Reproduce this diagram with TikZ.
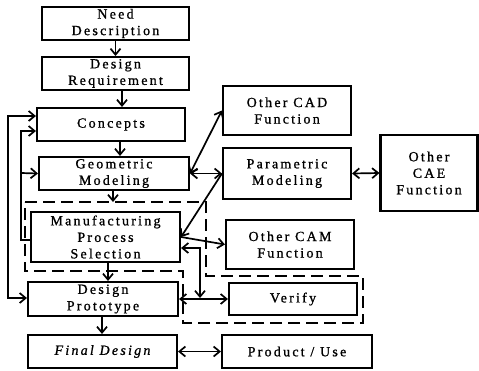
\documentclass[tikz,border=0pt]{standalone}
\usepackage{fontspec}
\setmainfont{Liberation Serif}[LetterSpace=16,FakeBold=1]
\usetikzlibrary{arrows.meta}
\begin{document}
\begin{tikzpicture}[x=1pt,y=-1pt,
  box/.style={draw, line width=2.1pt, inner sep=0pt},
  lbl/.style={align=center, font=\fontsize{14}{16.5}\selectfont, inner sep=0pt},
  arr/.style={line width=1.7pt, -{Straight Barb[length=6pt,width=10pt]}},
  dbl/.style={line width=1.7pt, {Straight Barb[length=6pt,width=10pt]}-{Straight Barb[length=6pt,width=10pt]}},
  zone/.style={line width=2.8pt, dash pattern=on 12pt off 6pt}]
\useasboundingbox (0,0) rectangle (479,370);

% main design chain
\node[box, minimum width=147pt, minimum height=33pt] (need) at (115.5,23.5) {};
\node[lbl] (need-t) at (need.center) {Need\\Description};
\node[box, minimum width=147pt, minimum height=33pt] (req) at (115.5,73.5) {};
\node[lbl] (req-t) at (req.center) {Design\\Requirement};
\node[box, minimum width=148pt, minimum height=33pt] (concepts) at (111,124.5) {};
\node[lbl] (concepts-t) at (concepts.center) {Concepts};
\node[box, minimum width=150pt, minimum height=33pt] (geo) at (114,173.5) {};
\node[lbl] (geo-t) at (geo.center) {Geometric\\Modeling};
\node[box, minimum width=149pt, minimum height=50pt] (mps) at (105.5,237) {};
\node[lbl] (mps-t) at (mps.center) {Manufacturing\\Process\\Selection};
\node[box, minimum width=150pt, minimum height=34pt] (proto) at (103,299) {};
\node[lbl] (proto-t) at (proto.center) {Design\\Prototype};
\node[box, minimum width=149pt, minimum height=33pt] (final) at (102.5,351.5) {};
\node[lbl] (final-t) at (final.center) {\itshape Final Design};

% side functions
\node[box, minimum width=128pt, minimum height=49pt] (cad) at (287,110.5) {};
\node[lbl] (cad-t) at (cad.center) {Other CAD\\Function};
\node[box, minimum width=128pt, minimum height=51pt] (param) at (287,173.5) {};
\node[lbl] (param-t) at (param.center) {Parametric\\Modeling};
\node[box, minimum width=97pt, minimum height=76pt] (cae) at (429,173) {};
\node[lbl] (cae-t) at (cae.center) {Other\\CAE\\Function};
\node[box, minimum width=128pt, minimum height=49pt] (cam) at (290,244.5) {};
\node[lbl] (cam-t) at (cam.center) {Other CAM\\Function};
\node[box, minimum width=128pt, minimum height=32pt] (verify) at (293,299) {};
\node[lbl] (verify-t) at (verify.center) {Verify};
\node[box, minimum width=150pt, minimum height=33pt] (product) at (297,351.5) {};
\node[lbl] (product-t) at (product.center) {Product / Use};

% dashed zone around manufacturing and verification
\draw[zone] (25,202) -- (206,202) -- (206,276) -- (363,276)
  -- (363,323) -- (183,323) -- (183,271) -- (25,271) -- cycle;

% downward flow
\draw[arr] (need.south) -- (req.north);
\draw[arr] (req.south -| 122,0) -- (concepts.north -| 122,0);
\draw[arr] (concepts.south -| 120,0) -- (geo.north -| 120,0);
\coordinate (zin) at (113,202);
\draw[arr] (geo.south -| 113,0) -- (zin);
\draw[arr] (mps.south -| 108,0) -- (proto.north -| 108,0);
\draw[arr] (proto.south -| 102,0) -- (final.north -| 102,0);

% links to side functions
\draw[dbl] (geo.east) -- (param.west);
\draw[dbl] (geo.east) -- (cad.west);
\draw[dbl] (param.east) -- (cae.west);
\draw[arr] (param.west) -- (mps.east);
\draw[arr] (mps.east) -- (cam.west);
\draw[dbl] (proto.east) -- (verify.west);
\draw[dbl] (final.east) -- (product.west);
\coordinate (vjoin) at (200,298);
\draw[dbl] (mps.east |- 0,248) -- (200,248) -- (vjoin);

% feedback loops on the left
\draw[dbl] (concepts.west |- 0,116) -- (8,116) -- (8,298) -- (proto.west |- 0,298);
\draw[arr] (mps.west |- 0,240) -- (21,240) -- (21,131) -- (concepts.west |- 0,131);
\draw[arr] (21,173) -- (geo.west);
\end{tikzpicture}
\end{document}
